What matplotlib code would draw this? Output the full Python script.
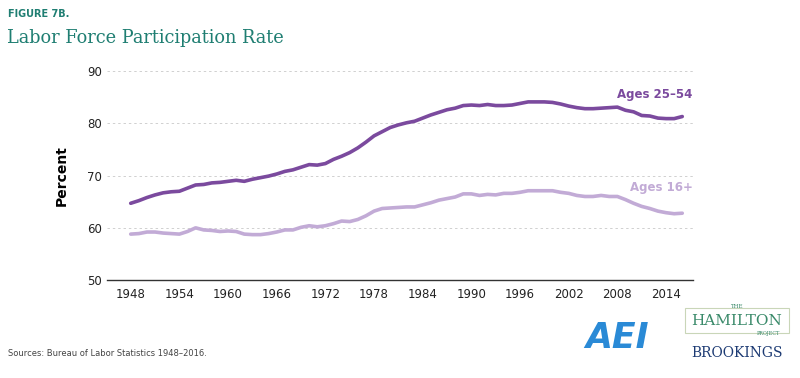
import numpy as np
import matplotlib.pyplot as plt
from matplotlib.patches import Rectangle

years = list(range(1948, 2017))

# Ages 25-54 participation rate (percent)
prime_age = [64.7, 65.2, 65.8, 66.3, 66.7, 66.9, 67.0, 67.6, 68.2, 68.3,
             68.6, 68.7, 68.9, 69.1, 68.9, 69.3, 69.6, 69.9, 70.3, 70.8,
             71.1, 71.6, 72.1, 72.0, 72.3, 73.1, 73.7, 74.4, 75.3, 76.4,
             77.6, 78.4, 79.2, 79.7, 80.1, 80.4, 81.0, 81.6, 82.1, 82.6,
             82.9, 83.4, 83.5, 83.4, 83.6, 83.4, 83.4, 83.5, 83.8, 84.1,
             84.1, 84.1, 84.0, 83.7, 83.3, 83.0, 82.8, 82.8, 82.9, 83.0,
             83.1, 82.5, 82.2, 81.5, 81.4, 81.0, 80.9, 80.9, 81.3]

# Ages 16+ participation rate (percent)
all_ages = [58.8, 58.9, 59.2, 59.2, 59.0, 58.9, 58.8, 59.3, 60.0, 59.6,
            59.5, 59.3, 59.4, 59.3, 58.8, 58.7, 58.7, 58.9, 59.2, 59.6,
            59.6, 60.1, 60.4, 60.2, 60.4, 60.8, 61.3, 61.2, 61.6, 62.3,
            63.2, 63.7, 63.8, 63.9, 64.0, 64.0, 64.4, 64.8, 65.3, 65.6,
            65.9, 66.5, 66.5, 66.2, 66.4, 66.3, 66.6, 66.6, 66.8, 67.1,
            67.1, 67.1, 67.1, 66.8, 66.6, 66.2, 66.0, 66.0, 66.2, 66.0,
            66.0, 65.4, 64.7, 64.1, 63.7, 63.2, 62.9, 62.7, 62.8]

xticks = list(range(1948, 2015, 6))
yticks = [50, 60, 70, 80, 90]

dark = "#7B4A9E"
light = "#C2ABD6"
teal = "#1F7E72"

fig = plt.figure(figsize=(8, 3.78), dpi=100)
ax = fig.add_axes([0.134, 0.259, 0.732, 0.553])

ax.plot(years, prime_age, color=dark, lw=2.6, solid_capstyle="round")
ax.plot(years, all_ages, color=light, lw=2.6, solid_capstyle="round")

ax.set_xlim(1945.1, 2017.3)
ax.set_ylim(50, 90)
ax.set_xticks(xticks)
ax.set_yticks(yticks)
for y in yticks[1:]:
    ax.axhline(y, color="#d0d0d0", lw=0.7, ls=(0, (2.5, 3)), zorder=0)

for s in ["top", "right", "left"]:
    ax.spines[s].set_visible(False)
ax.spines["bottom"].set_color("#333333")
ax.spines["bottom"].set_linewidth(1.0)
ax.tick_params(length=0, labelsize=8.5, colors="#222222", pad=6)
ax.tick_params(axis="y", pad=4)
ax.set_ylabel("Percent", fontsize=10, fontweight="bold", labelpad=13)

ax.text(2017.3, 85.5, "Ages 25\u201354", color=dark, fontsize=8.5,
        fontweight="bold", ha="right", va="center")
ax.text(2017.3, 67.7, "Ages 16+", color=light, fontsize=8.5,
        fontweight="bold", ha="right", va="center")

fig.text(0.010, 0.963, "FIGURE 7B.", color=teal, fontsize=7,
         fontweight="bold", va="center")
fig.text(0.009, 0.900, "Labor Force Participation Rate", color=teal,
         fontsize=12.8, family="DejaVu Serif", va="center")
fig.text(0.010, 0.066, "Sources: Bureau of Labor Statistics 1948\u20132016.",
         color="#444444", fontsize=6, va="center")

# logos
fig.text(0.771, 0.105, "AEI", color="#2a8ad6", fontsize=25,
         fontweight="bold", style="italic", ha="center", va="center")
fig.patches.append(Rectangle((0.856, 0.118), 0.130, 0.068,
                             transform=fig.transFigure, fill=False,
                             ec="#c9d6b8", lw=0.8))
fig.text(0.921, 0.190, "THE", color="#3a8a6a", fontsize=4,
         family="DejaVu Serif", ha="center", va="center")
fig.text(0.921, 0.152, "HAMILTON", color="#3a8a6a", fontsize=11,
         family="DejaVu Serif", ha="center", va="center")
fig.text(0.960, 0.118, "PROJECT", color="#3a8a6a", fontsize=3.5,
         family="DejaVu Serif", ha="center", va="center")
fig.text(0.921, 0.066, "BROOKINGS", color="#1c3a73", fontsize=10,
         family="DejaVu Serif", ha="center", va="center")

fig.savefig("out.png", dpi=100)
